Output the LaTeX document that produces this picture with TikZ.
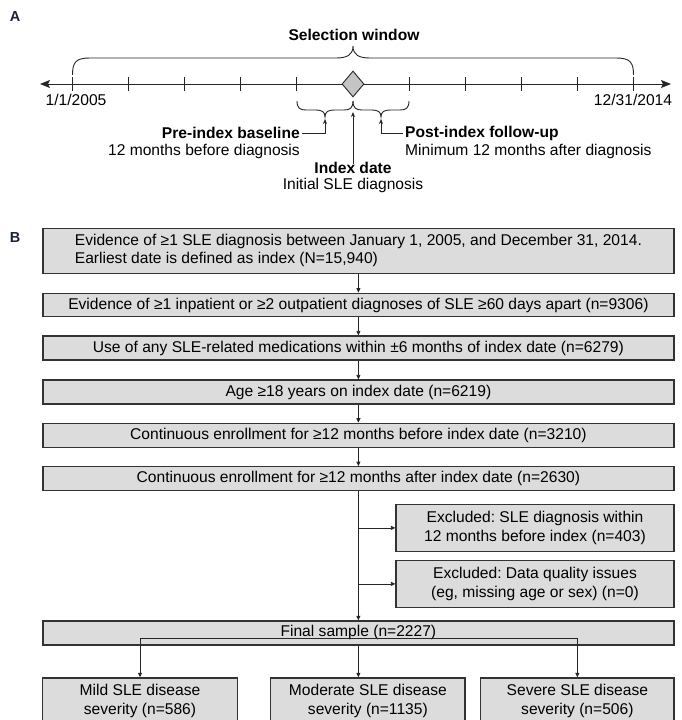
\documentclass[tikz,border=0pt]{standalone}
\usepackage{fontspec}
\setmainfont{Liberation Sans}
\usetikzlibrary{arrows.meta,shapes.geometric}
\definecolor{boxfill}{HTML}{DCDCDC}
\definecolor{boxline}{HTML}{333333}
\definecolor{diafill}{HTML}{C4C4C4}
\definecolor{panelcol}{HTML}{1A2238}
\frenchspacing
\begin{document}
\frenchspacing
\begin{tikzpicture}[x=1pt,y=-1pt,
  txt/.style={font=\fontsize{15.6}{19.5}\selectfont, inner sep=0pt},
  btxt/.style={font=\fontsize{15.6}{19.5}\selectfont\bfseries, inner sep=0pt},
  panel/.style={font=\fontsize{14.5}{16}\selectfont\bfseries, text=panelcol, inner sep=0pt},
  axisline/.style={line width=1pt, draw=black!85, {Stealth[length=10pt,width=8pt,inset=2pt]}-{Stealth[length=10pt,width=8pt,inset=2pt]}},
  tick/.style={line width=0.9pt, draw=black!85},
  brace/.style={line width=0.9pt, draw=black!85},
  sarr/.style={line width=0.8pt, draw=black!85, -{Stealth[length=5pt,width=4pt]}},
  box/.style={draw=boxline, line width=1.2pt, fill=boxfill, inner sep=0pt,
    font=\fontsize{15.6}{19.5}\selectfont, align=center},
  conn/.style={line width=0.8pt, draw=black!85},
  arr/.style={conn, -{Triangle[length=4.5pt,width=4pt]}}
]
\useasboundingbox (0,0) rectangle (682,720);
\clip (0,0) rectangle (682,720);

% ---------------- Panel A ----------------
\node[panel] (pa) at (15,17) {A};
\node[btxt] (selwin) at (354,35) {Selection window};

% axis
\coordinate (axl) at (40,84);
\coordinate (axr) at (671,84);
\draw[axisline] (axl) -- (axr);
\foreach \k in {0,1,2,3,4,6,7,8,9,10}{
  \draw[tick] (72.5+56.1*\k,77) -- (72.5+56.1*\k,91);
}
% diamond
\node[diamond, draw=black!85, line width=0.9pt, fill=diafill, inner sep=0pt,
  minimum width=22pt, minimum height=26pt, aspect=0.85] (dia) at (353,84) {};

\node[txt] (d1) at (76,100) {1/1/2005};
\node[txt] (d2) at (633,100) {12/31/2014};

% top brace
\draw[brace] (72.5,75) .. controls (72.5,62) and (76,58) .. (90,58) -- (336,58)
  .. controls (347,58) and (353,55) .. (353,46)
  .. controls (353,55) and (359,58) .. (370,58) -- (616,58)
  .. controls (630,58) and (633.5,62) .. (633.5,75);

% lower braces
\draw[brace] (297,101) .. controls (297,108) and (300,110) .. (306,110) -- (316,110)
  .. controls (322,110) and (325,112) .. (325,117)
  .. controls (325,112) and (328,110) .. (334,110) -- (344,110)
  .. controls (350,110) and (353,108) .. (353,101);
\draw[brace] (353,101) .. controls (353,108) and (356,110) .. (362,110) -- (372,110)
  .. controls (378,110) and (381,112) .. (381,117)
  .. controls (381,112) and (384,110) .. (390,110) -- (400,110)
  .. controls (406,110) and (409,108) .. (409,101);

% labels
\node[btxt, anchor=east] (pre) at (300,133) {Pre-index baseline};
\node[txt, anchor=east] (pre2) at (300,151) {12 months before diagnosis};
\node[btxt, anchor=west] (post) at (405,133) {Post-index follow-up};
\node[txt, anchor=west] (post2) at (405,151) {Minimum 12 months after diagnosis};
\node[btxt] (idx) at (353,168) {Index date};
\node[txt] (idx2) at (353,185) {Initial SLE diagnosis};

\coordinate (pretip) at (325,119);
\coordinate (posttip) at (381,119);
\coordinate (idxtip) at (353,112);
\draw[sarr] ([xshift=2pt]pre.east) -| (pretip);
\draw[sarr] ([xshift=-2pt]post.west) -| (posttip);
\draw[sarr] ([yshift=-2pt]idx.north) -- (idxtip);

% ---------------- Panel B ----------------
\node[panel] (pb) at (15,238) {B};

\node[box, minimum width=631pt, minimum height=45pt] (b1) at (358.4,250.8)
  {\begin{tabular}{@{}l@{}}Evidence of ≥1 SLE diagnosis between January 1, 2005, and December 31, 2014.\\[-1pt]
   Earliest date is defined as index (N=15,940)\end{tabular}};
\node[box, minimum width=631pt, minimum height=23.5pt] (b2) at (358.4,305)
  {Evidence of ≥1 inpatient or ≥2 outpatient diagnoses of SLE ≥60 days apart (n=9306)};
\node[box, minimum width=631pt, minimum height=24pt] (b3) at (358.4,348)
  {Use of any SLE-related medications within ±6 months of index date (n=6279)};
\node[box, minimum width=631pt, minimum height=24pt] (b4) at (358.4,392)
  {Age ≥18 years on index date (n=6219)};
\node[box, minimum width=631pt, minimum height=24pt] (b5) at (358.4,435.3)
  {Continuous enrollment for ≥12 months before index date (n=3210)};
\node[box, minimum width=631pt, minimum height=24pt] (b6) at (358.4,478.7)
  {Continuous enrollment for ≥12 months after index date (n=2630)};

\node[box, minimum width=278pt, minimum height=47.5pt] (e1) at (535,527.9)
  {Excluded: SLE diagnosis within\\12 months before index (n=403)};
\node[box, minimum width=278pt, minimum height=47.5pt] (e2) at (535,583.9)
  {Excluded: Data quality issues\\(eg, missing age or sex) (n=0)};

\node[box, minimum width=631pt, minimum height=24pt] (fin) at (358.4,632.9)
  {Final sample (n=2227)};

\node[box, minimum width=194.5pt, minimum height=46pt, anchor=north] (m1) at (140,677.3)
  {Mild SLE disease\\severity (n=586)};
\node[box, minimum width=194.3pt, minimum height=46pt, anchor=north] (m2) at (367.85,677.3)
  {Moderate SLE disease\\severity (n=1135)};
\node[box, minimum width=193.3pt, minimum height=46pt, anchor=north] (m3) at (577.35,677.3)
  {Severe SLE disease\\severity (n=506)};

% connectors
\draw[arr] (b1.south) -- (b2.north);
\draw[arr] (b2.south) -- (b3.north);
\draw[arr] (b3.south) -- (b4.north);
\draw[arr] (b4.south) -- (b5.north);
\draw[arr] (b5.south) -- (b6.north);
\draw[arr] (b6.south) -- (fin.north);
\draw[arr] (b6.south |- e1.west) -- (e1.west);
\draw[arr] (b6.south |- e2.west) -- (e2.west);

\coordinate (split) at ([yshift=7.5pt]fin.south);
\draw[conn] (m1.north |- split) -- (m3.north |- split);
\draw[arr] (fin.south) -- (fin.south |- m2.north);
\draw[arr] (m1.north |- split) -- (m1.north);
\draw[arr] (m3.north |- split) -- (m3.north);
\end{tikzpicture}
\end{document}
